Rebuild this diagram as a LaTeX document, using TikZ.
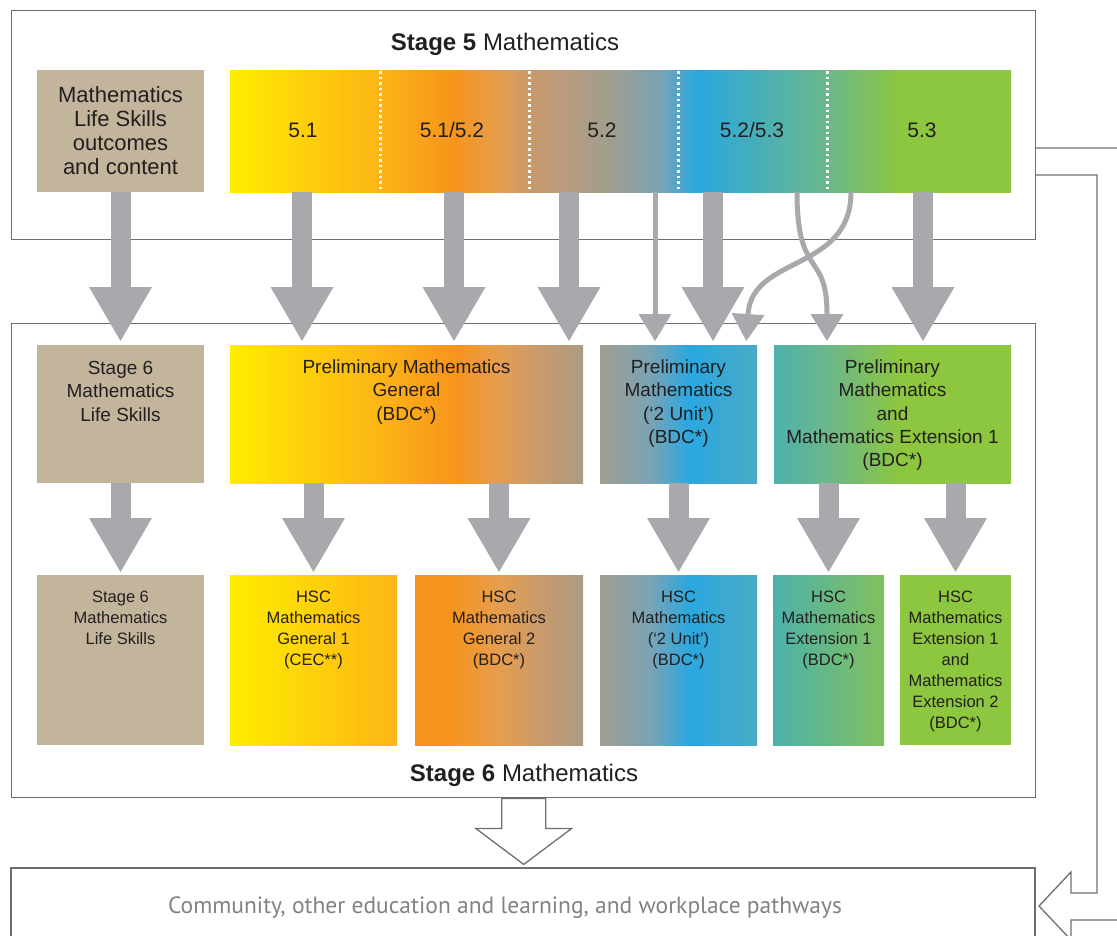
\documentclass[tikz,border=0pt]{standalone}
\usepackage{fontspec}
\setmainfont{Liberation Sans}
\newfontfamily\pathfont{PT Sans}
\usepackage{xcolor}
\usetikzlibrary{arrows.meta,positioning}

\definecolor{ink}{HTML}{231F20}
\definecolor{framegray}{HTML}{6D6E71}
\definecolor{arrowgray}{HTML}{A7A9AC}
\definecolor{pathgray}{HTML}{808285}
\definecolor{beige}{HTML}{C2B59B}
\definecolor{cyel}{HTML}{FFED00}
\definecolor{cyelor}{HTML}{FED10B}
\definecolor{cgold}{HTML}{FDB515}
\definecolor{corange}{HTML}{F7941D}
\definecolor{clight}{HTML}{E59D50}
\definecolor{ctan}{HTML}{C99A6C}
\definecolor{cgrey}{HTML}{A19E90}
\definecolor{cdust}{HTML}{AA9B83}
\definecolor{csteel}{HTML}{7AA3B4}
\definecolor{cblue}{HTML}{29A8E0}
\definecolor{cblueend}{HTML}{4AAAC6}
\definecolor{cteal}{HTML}{4DB1AB}
\definecolor{cseafoam}{HTML}{6AB78C}
\definecolor{cgreen}{HTML}{8DC63F}
\definecolor{cgreenend}{HTML}{80C05E}

\pgfdeclarehorizontalshading{barshade}{100bp}{color(0bp)=(cyel); color(25bp)=(cyel);
  color(29.5bp)=(cyelor); color(34.5bp)=(cgold); color(39.4bp)=(corange);
  color(42.3bp)=(clight); color(44.2bp)=(ctan); color(49.3bp)=(cgrey);
  color(52.5bp)=(csteel); color(54.9bp)=(cblue); color(63.2bp)=(cseafoam);
  color(67.9bp)=(cgreen); color(75bp)=(cgreen); color(100bp)=(cgreen)}
\pgfdeclarehorizontalshading{pmgshade}{100bp}{color(0bp)=(cyel); color(25bp)=(cyel);
  color(34.9bp)=(cyelor); color(46bp)=(cgold); color(56.9bp)=(corange);
  color(63.2bp)=(clight); color(68.9bp)=(ctan); color(75bp)=(cdust); color(100bp)=(cdust)}
\pgfdeclarehorizontalshading{hgtwoshade}{100bp}{color(0bp)=(corange); color(35.4bp)=(corange);
  color(50.3bp)=(clight); color(62.2bp)=(ctan); color(75bp)=(cdust); color(100bp)=(cdust)}
\pgfdeclarehorizontalshading{twounitshade}{100bp}{color(0bp)=(cgrey); color(25bp)=(cgrey);
  color(40.9bp)=(csteel); color(53.7bp)=(cblue); color(75bp)=(cblueend); color(100bp)=(cblueend)}
\pgfdeclarehorizontalshading{extshade}{100bp}{color(0bp)=(cteal); color(25bp)=(cteal);
  color(36bp)=(cseafoam); color(51.6bp)=(cgreen); color(100bp)=(cgreen)}

\newcommand\fsTitle{\fontsize{24}{28}\selectfont}
\newcommand\fsTop{\fontsize{22}{24}\selectfont}
\newcommand\fsBar{\fontsize{21}{24}\selectfont}
\newcommand\fsMid{\fontsize{19}{23.3}\selectfont}
\newcommand\fsLow{\fontsize{16.5}{21}\selectfont}
\newcommand\fsPath{\fontsize{23.5}{26}\selectfont}

\begin{document}
\begin{tikzpicture}[x=1pt,y=-1pt]
  \tikzstyle{stage frame}=[draw=framegray, line width=1.4pt, anchor=north west, inner sep=0pt, minimum width=1024pt]
  \tikzstyle{block}=[anchor=north west, inner sep=0pt, outer sep=0pt]
  \tikzstyle{top text}=[font=\fsTop, align=center, text=ink]
  \tikzstyle{mid text}=[font=\fsMid, align=center, text=ink, inner sep=0pt]
  \tikzstyle{low text}=[font=\fsLow, align=center, text=ink, inner sep=0pt]
  \tikzstyle{separator}=[white, line width=3pt, dash pattern=on 2.7pt off 2.8pt]
  \tikzstyle{big arrow}=[draw=arrowgray, line width=20pt, -{Triangle[width=63pt,length=54pt,line width=0pt]}, shorten >=4pt]
  \tikzstyle{thin arrow}=[draw=arrowgray, line width=5pt, -{Triangle[width=33pt,length=27pt,line width=0pt]}, shorten >=4pt]
  \tikzstyle{hollow}=[draw=framegray, line width=1.3pt, line join=miter]

  \useasboundingbox (0,0) rectangle (1117,935);
  \clip (0,0) rectangle (1117,935);

  % Stage 5
  \node[stage frame, minimum height=229pt] (st5) at (11,10) {};
  \node[font=\fsTitle, text=ink, anchor=base] (st5title) at (505,50) {\textbf{Stage 5} Mathematics};
  \node[block, top text, fill=beige, minimum width=167pt, minimum height=122pt] (ls5) at (37,70)
    {Mathematics\\Life Skills\\outcomes\\and content};
  \node[block, shading=barshade, minimum width=781pt, minimum height=122pt] (bar) at (230,70) {};
  \draw[separator] (380,71) -- (380,191) (529,71) -- (529,191)
    (678,71) -- (678,191) (827,71) -- (827,191);
  \node[font=\fsBar, text=ink] (s51) at (303,130) {5.1};
  \node[font=\fsBar, text=ink] (s512) at (452,130) {5.1/5.2};
  \node[font=\fsBar, text=ink] (s52) at (602,130) {5.2};
  \node[font=\fsBar, text=ink] (s523) at (752,130) {5.2/5.3};
  \node[font=\fsBar, text=ink] (s53) at (922,130) {5.3};

  % Stage 6
  \node[stage frame, minimum height=474pt] (st6) at (11,323) {};
  \node[font=\fsTitle, text=ink, anchor=base] (st6title) at (524,781) {\textbf{Stage 6} Mathematics};

  \node[block, fill=beige, minimum width=167pt, minimum height=138pt] (ls6) at (37,345) {};
  \node[block, shading=pmgshade, minimum width=353pt, minimum height=138pt] (pmg) at (230,345) {};
  \node[block, shading=twounitshade, minimum width=157pt, minimum height=138pt] (pm2) at (600,345) {};
  \node[block, shading=extshade, minimum width=237pt, minimum height=138pt] (pme) at (774,345) {};
  \node[mid text, below=16pt of ls6.north] (ls6t) {Stage 6\\Mathematics\\Life Skills};
  \node[mid text, below=14.5pt of pmg.north] (pmgt) {Preliminary Mathematics\\General\\(BDC*)};
  \node[mid text, below=14.5pt of pm2.north] (pm2t) {Preliminary\\Mathematics\\(`2 Unit')\\(BDC*)};
  \node[mid text, below=14.5pt of pme.north] (pmet) {Preliminary\\Mathematics\\and\\Mathematics Extension 1\\(BDC*)};

  \node[block, fill=beige, minimum width=167pt, minimum height=170pt] (hls) at (37,575) {};
  \node[block, left color=cyel, middle color=cyelor, right color=cgold, minimum width=167pt, minimum height=170pt] (hg1) at (230,575) {};
  \node[block, shading=hgtwoshade, minimum width=168pt, minimum height=170pt] (hg2) at (415,575) {};
  \node[block, shading=twounitshade, minimum width=157pt, minimum height=170pt] (hm2) at (600,575) {};
  \node[block, left color=cteal, right color=cgreenend, minimum width=111pt, minimum height=170pt] (he1) at (773,575) {};
  \node[block, fill=cgreen, minimum width=111pt, minimum height=170pt] (he2) at (900,575) {};
  \node[low text, below=16pt of hls.north] (hlst) {Stage 6\\Mathematics\\Life Skills};
  \node[low text, below=16pt of hg1.north] (hg1t) {HSC\\Mathematics\\General 1\\(CEC**)};
  \node[low text, below=16pt of hg2.north] (hg2t) {HSC\\Mathematics\\General 2\\(BDC*)};
  \node[low text, below=16pt of hm2.north] (hm2t) {HSC\\Mathematics\\(`2 Unit')\\(BDC*)};
  \node[low text, below=16pt of he1.north] (he1t) {HSC\\Mathematics\\Extension 1\\(BDC*)};
  \node[low text, below=16pt of he2.north] (he2t) {HSC\\Mathematics\\Extension 1\\and\\Mathematics\\Extension 2\\(BDC*)};

  % pathways
  \node[block, draw=framegray, line width=1.4pt, minimum width=1024pt, minimum height=100pt] (paths) at (11,868) {};
  \node[font=\pathfont\fsPath, text=pathgray, anchor=base] (pathst) at (505,913)
    {Community, other education and learning, and workplace pathways};

  % arrows from Stage 5
  \coordinate (o1) at (302,192);
  \coordinate (o2) at (454,192);
  \coordinate (o3) at (569,192);
  \coordinate (o4) at (655,192);
  \coordinate (o5) at (713,192);
  \coordinate (o6) at (797,192);
  \coordinate (o7) at (851,192);
  \coordinate (o8) at (923,192);
  \coordinate (t6) at (827,345);
  \coordinate (t7) at (746,345);

  \draw[big arrow] (ls5.south) -- (ls6.north);
  \draw[big arrow] (o1) -- (o1 |- pmg.north);
  \draw[big arrow] (o2) -- (o2 |- pmg.north);
  \draw[big arrow] (o3) -- (o3 |- pmg.north);
  \draw[thin arrow] (o4) -- (o4 |- pm2.north);
  \draw[big arrow] (o5) -- (o5 |- pm2.north);
  \draw[thin arrow] (o6) .. controls +(0,88) and +(0,-95) .. (t6);
  \draw[thin arrow] (o7) .. controls +(0,80) and +(6,-90) .. (t7);
  \draw[big arrow] (o8) -- (o8 |- pme.north);

  % arrows into HSC
  \draw[big arrow, shorten >=3pt] (hls.north |- ls6.south) -- (hls.north);
  \draw[big arrow, shorten >=3pt] (hg1.north |- pmg.south) -- (hg1.north);
  \draw[big arrow, shorten >=3pt] (hg2.north |- pmg.south) -- (hg2.north);
  \draw[big arrow, shorten >=3pt] (hm2.north |- pm2.south) -- (hm2.north);
  \draw[big arrow, shorten >=3pt] (he1.north |- pme.south) -- (he1.north);
  \draw[big arrow, shorten >=3pt] (he2.north |- pme.south) -- (he2.north);

  % hollow arrows to pathways
  \draw[hollow, fill=white] (st6.south) ++(-22,0) -- ++(0,30) -- ++(-26,0) -- ++(48,36)
    -- ++(48,-36) -- ++(-26,0) -- ++(0,-30) -- cycle;
  \draw[hollow] (1035,148) -- (1124,148) -- (1124,920) -- (1071,920) -- (1071,940)
    -- (1039,906) -- (1071,872) -- (1071,893) -- (1097,893) -- (1097,175) -- (1035,175);
\end{tikzpicture}
\end{document}
